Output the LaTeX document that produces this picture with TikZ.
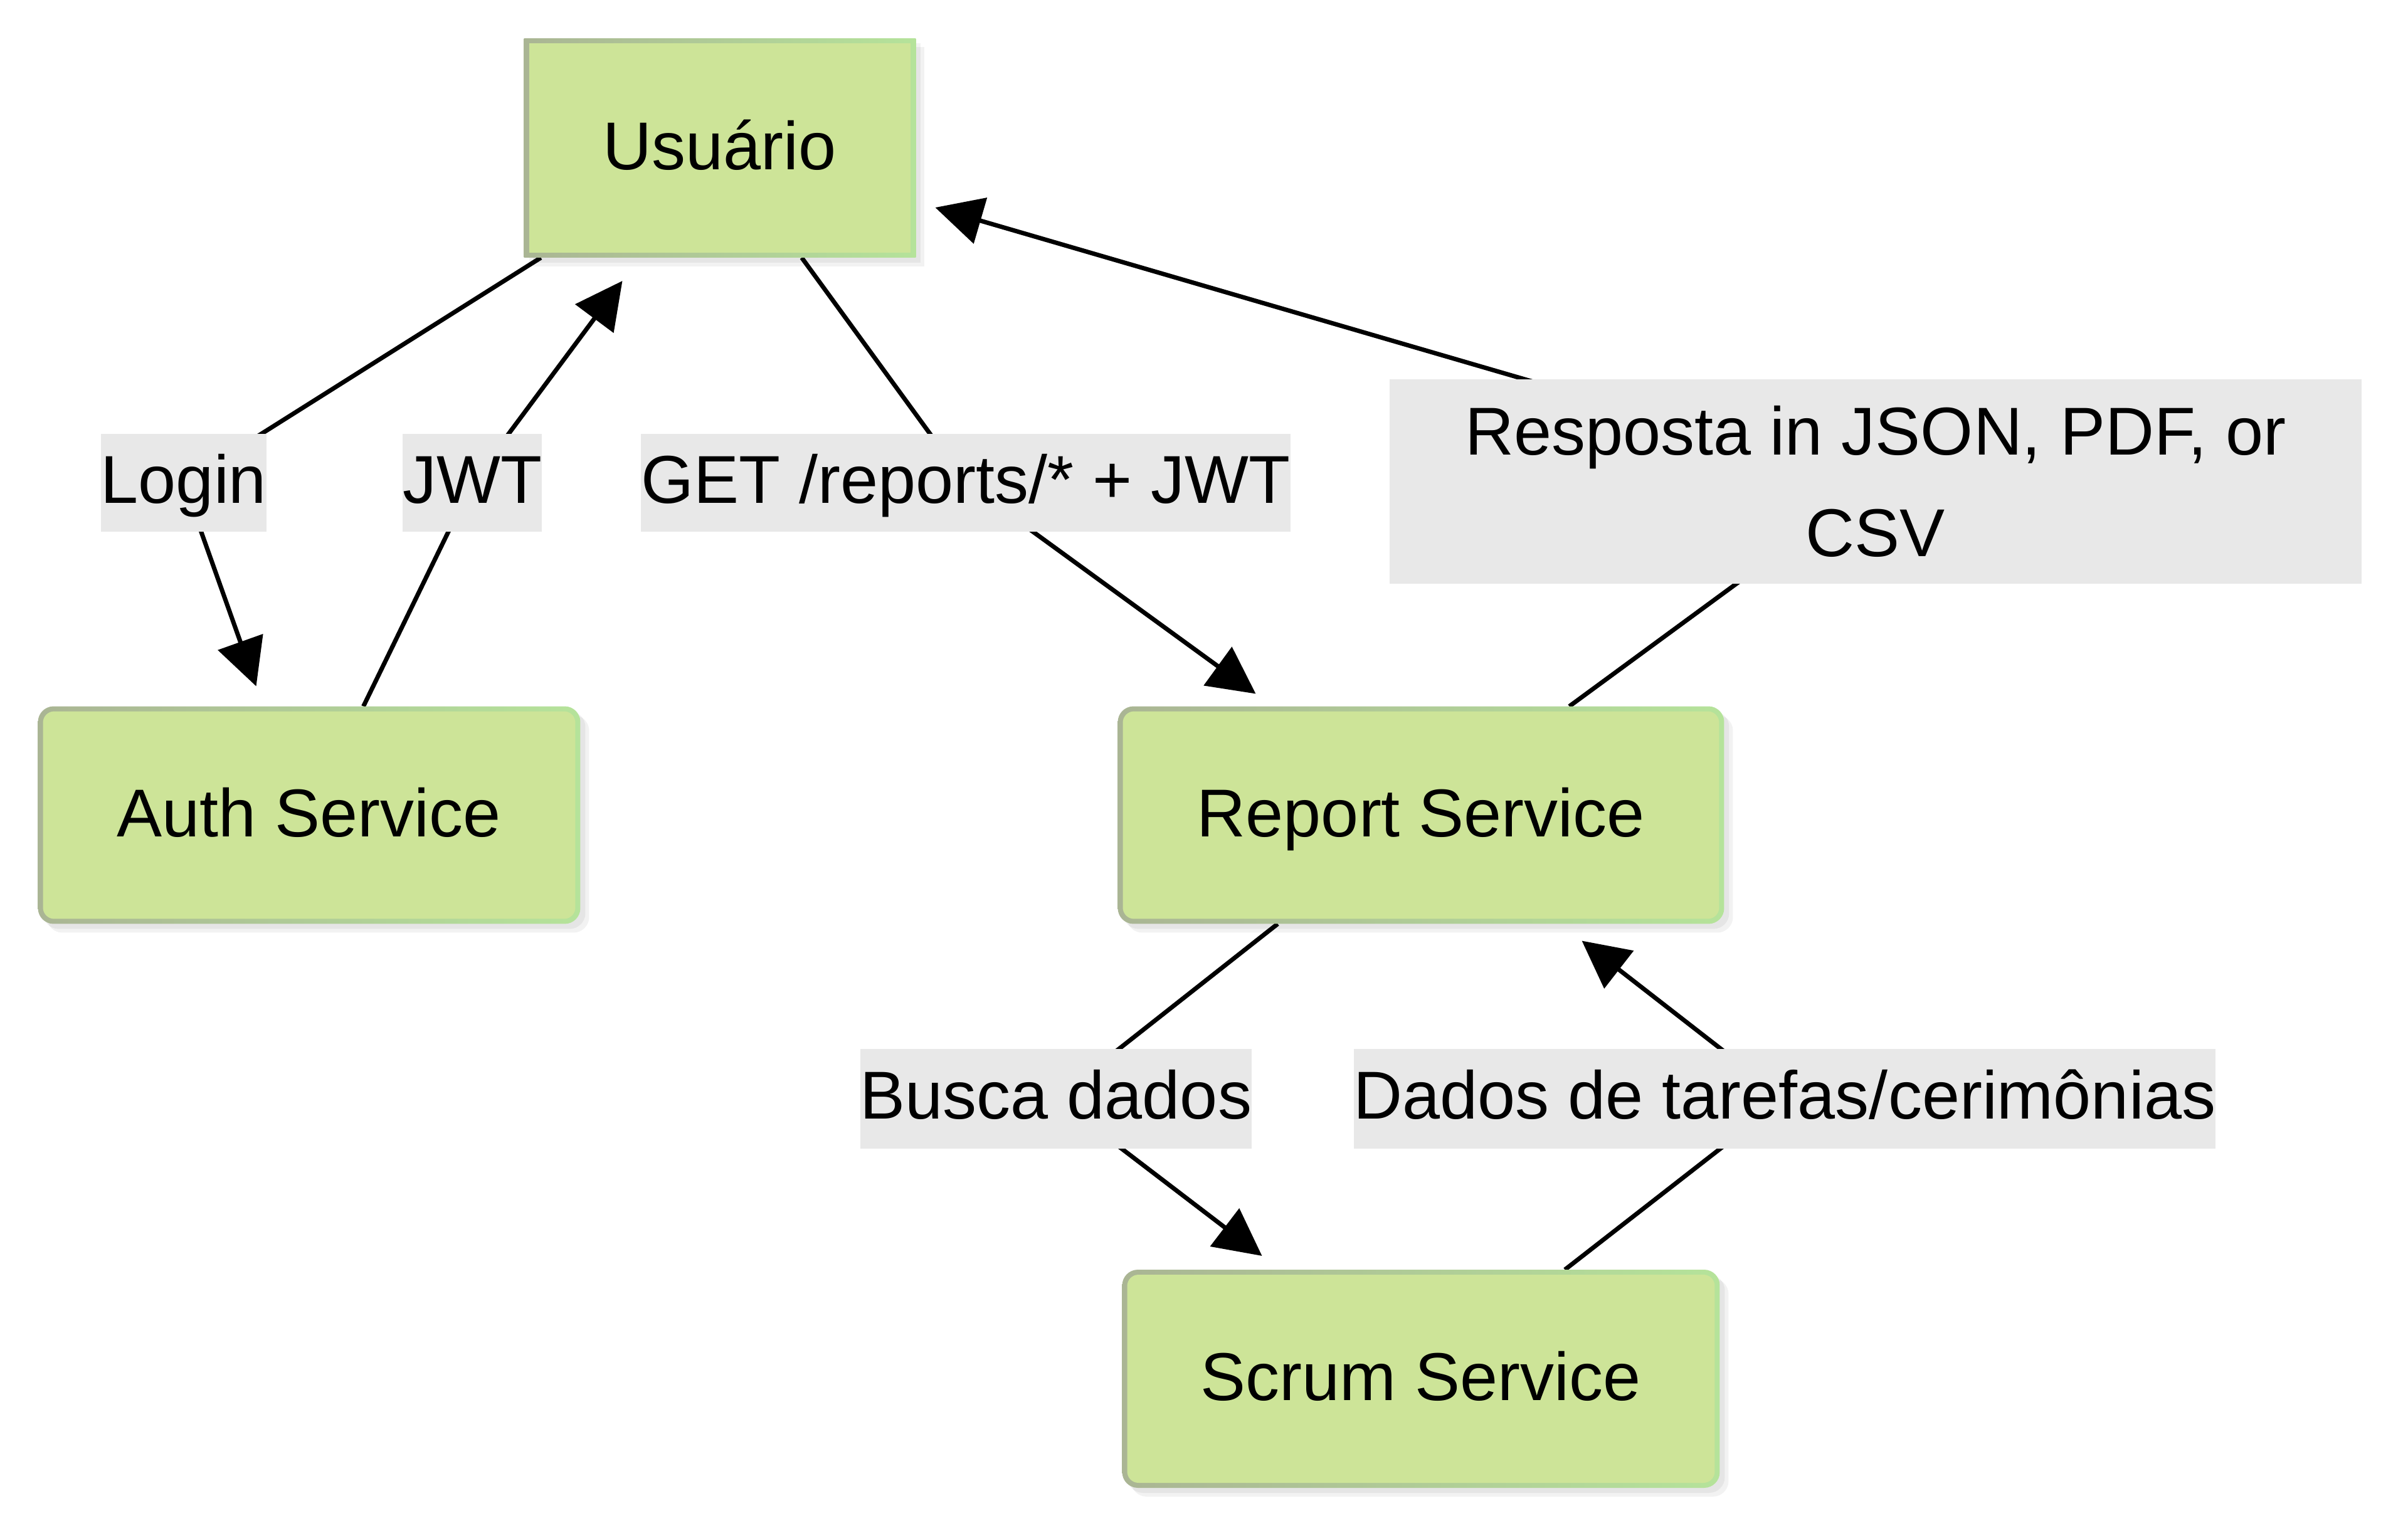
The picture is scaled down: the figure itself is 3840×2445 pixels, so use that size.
\documentclass[tikz,border=0pt]{standalone}
\usepackage{fontspec}
\setmainfont{Liberation Sans}
\usetikzlibrary{arrows.meta,calc,shadows}
\pgfdeclarelayer{bg}
\pgfdeclarelayer{edges}
\pgfsetlayers{bg,edges,main}
\definecolor{nfill}{HTML}{CDE498}
\definecolor{bL}{HTML}{AAB594}
\definecolor{bR}{HTML}{B5E39A}
\definecolor{lfill}{HTML}{E8E8E8}
\tikzset{
  txt/.style={font=\fontsize{10.8pt}{16.2pt}\selectfont},
  box/.style={rectangle, inner sep=0pt, outer sep=0pt, txt, text height=8.5pt, text depth=1.6pt,
    general shadow={shadow xshift=1.4pt, shadow yshift=-1.4pt, fill=black, opacity=0.05},
    general shadow={shadow xshift=0.8pt, shadow yshift=-0.8pt, fill=black, opacity=0.05},
    left color=bL, right color=bR},
  roundbox/.style={box, rounded corners=2.5pt,
    path picture={\fill[nfill, rounded corners=1.8pt]
      ($(path picture bounding box.north west)+(0.8pt,-0.8pt)$) rectangle
      ($(path picture bounding box.south east)+(-0.8pt,0.8pt)$);}},
  sharpbox/.style={box,
    path picture={\fill[nfill]
      ($(path picture bounding box.north west)+(0.8pt,-0.8pt)$) rectangle
      ($(path picture bounding box.south east)+(-0.8pt,0.8pt)$);}},
  lbl/.style={fill=lfill, inner xsep=0pt, inner ysep=0pt, outer sep=0pt, minimum height=15.6pt, txt},
  lblone/.style={lbl, text height=8.3pt, text depth=1.8pt},
  conn/.style={draw=black, line width=0.7pt, -{Triangle[length=7.5pt,width=7.5pt]}}
}
\begin{document}
\begin{tikzpicture}[x=0.1pt,y=-0.1pt]
\begin{pgfonlayer}{bg}
\path[use as bounding box, fill=white] (0,0) rectangle (3840,2445);
\end{pgfonlayer}

% nodes
\node[sharpbox, minimum width=62.5pt, minimum height=35pt] (u) at (1148,236) {Usuário};
\node[roundbox, minimum width=86.5pt, minimum height=34.7pt] (auth) at (493,1300) {Auth Service};
\node[roundbox, minimum width=96.7pt, minimum height=34.7pt] (rep) at (2266,1300) {Report Service};
\node[roundbox, minimum width=95.3pt, minimum height=34.8pt] (scrum) at (2266,2199) {Scrum Service};

% edge labels
\node[lblone] (lLogin) at (293,770) {Login};
\node[lblone] (lJWT) at (753,770) {JWT};
\node[lblone] (lGET) at (1540,770) {GET /reports/* + JWT};
\node[lbl, minimum width=155.1pt, minimum height=32.6pt, align=center] (lResp) at (2991,768) {Resposta in JSON, PDF, or\\CSV};
\node[lblone, minimum height=15.9pt] (lBusca) at (1684,1752) {Busca dados};
\node[lblone, minimum height=15.9pt] (lDados) at (2846,1752) {Dados de tarefas/cerimônias};

% connectors
\begin{pgfonlayer}{edges}
\draw[conn] ($(u.south west)+(27,0)$) -- (lLogin.center) -- ($(auth.north west)+(348,-32)$);
\draw[conn] ($(auth.north west)+(519,0)$) -- (lJWT.center) -- ($(u.south west)+(157,37)$);
\draw[conn] ($(u.south west)+(443,0)$) -- (lGET.center) -- ($(rep.north west)+(220,-20)$);
\draw[conn] ($(rep.north west)+(720,0)$) -- (lResp.center) -- ($(u.north east)+(31,270)$);
\draw[conn] ($(rep.south west)+(255,0)$) -- (lBusca.center) -- ($(scrum.north west)+(223,-22)$);
\draw[conn] ($(scrum.north west)+(706,0)$) -- (lDados.center) -- ($(rep.south west)+(740,27)$);
\end{pgfonlayer}
\end{tikzpicture}
\end{document}
